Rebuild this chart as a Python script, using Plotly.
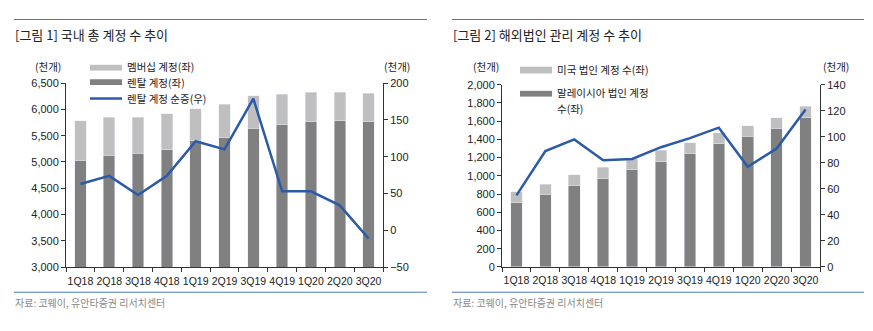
import plotly.graph_objects as go

quarters = ["1Q18", "2Q18", "3Q18", "4Q18", "1Q19", "2Q19", "3Q19", "4Q19", "1Q20", "2Q20", "3Q20"]

# Chart 1 (domestic)
rental = [5030, 5125, 5165, 5235, 5400, 5460, 5640, 5705, 5765, 5785, 5765]
total_dom = [5780, 5855, 5850, 5920, 6010, 6100, 6260, 6285, 6330, 6330, 6305]
membership = [t - r for t, r in zip(total_dom, rental)]
rental_net = [63, 74, 48, 74, 121, 110, 179, 53, 53, 34, -11]

# Chart 2 (overseas)
malaysia = [705, 800, 890, 970, 1065, 1153, 1242, 1354, 1433, 1520, 1640]
total_ovs = [825, 907, 1012, 1092, 1190, 1280, 1365, 1471, 1549, 1640, 1764]
usa = [t - m for t, m in zip(total_ovs, malaysia)]
overseas_line = [55, 89, 98, 82, 83, 92, 99, 107, 77, 91, 121]

W, H = 873, 331
LIGHT = "#bfbfbf"
DARK = "#808080"
BLUE = "#2b5ba8"
FONT = "Liberation Sans, Noto Sans CJK KR, sans-serif"
KFONT = "Noto Sans CJK KR, sans-serif"
TXT = "#222222"

def px(x):
    return x / W

def py(y):
    return 1 - y / H

fig = go.Figure()

fig.add_trace(go.Bar(x=quarters, y=rental, marker_color=DARK, xaxis="x", yaxis="y", showlegend=False))
fig.add_trace(go.Bar(x=quarters, y=membership, marker_color=LIGHT, xaxis="x", yaxis="y", showlegend=False))
fig.add_trace(go.Scatter(x=quarters, y=rental_net, mode="lines", line=dict(color=BLUE, width=2.5),
                         xaxis="x", yaxis="y2", showlegend=False))

fig.add_trace(go.Bar(x=quarters, y=malaysia, marker_color=DARK, xaxis="x2", yaxis="y3", showlegend=False))
fig.add_trace(go.Bar(x=quarters, y=usa, marker_color=LIGHT, xaxis="x2", yaxis="y3", showlegend=False))
fig.add_trace(go.Scatter(x=quarters, y=overseas_line, mode="lines", line=dict(color=BLUE, width=2.5),
                         xaxis="x2", yaxis="y4", showlegend=False))

axis_common = dict(showgrid=False, zeroline=False, showline=True, linecolor="#333333", linewidth=1,
                   ticks="outside", ticklen=4, tickcolor="#333333",
                   tickfont=dict(family=FONT, size=11, color=TXT))
xaxis_common = dict(axis_common)
xaxis_common["tickfont"] = dict(family=FONT, size=10.5, color=TXT)
xaxis_common["ticklabelstandoff"] = 4

ydom = [py(271), py(80)]
ydom2 = [py(270.7), py(81.7)]

fig.update_layout(
    width=W, height=H, margin=dict(l=0, r=0, t=0, b=0),
    paper_bgcolor="white", plot_bgcolor="white",
    barmode="stack", bargap=0.6,
    xaxis=dict(domain=[px(66), px(383)], anchor="y", tickson="boundaries", tickangle=0, **xaxis_common),
    yaxis=dict(domain=ydom, anchor="x", range=[3000, 6500], dtick=500, tickformat=",", **axis_common),
    yaxis2=dict(overlaying="y", side="right", anchor="x", range=[-50, 200], dtick=50, **axis_common),
    xaxis2=dict(domain=[px(502), px(820)], anchor="y3", tickson="boundaries", tickangle=0, **xaxis_common),
    yaxis3=dict(domain=ydom2, anchor="x2", range=[0, 2000], dtick=200, tickformat=",", **axis_common),
    yaxis4=dict(overlaying="y3", side="right", anchor="x2", range=[0, 140], dtick=20, **axis_common),
)

shapes = []
annos = []

def line(x0, y0, x1, y1, color, width):
    shapes.append(dict(type="line", xref="paper", yref="paper", x0=px(x0), y0=py(y0), x1=px(x1), y1=py(y1),
                       line=dict(color=color, width=width)))

def rect(x0, y0, x1, y1, color):
    shapes.append(dict(type="rect", xref="paper", yref="paper", x0=px(x0), y0=py(y0), x1=px(x1), y1=py(y1),
                       line=dict(width=0), fillcolor=color))

def text(x, y, s, size=11, color=TXT, xanchor="left", family=KFONT):
    annos.append(dict(xref="paper", yref="paper", x=px(x), y=py(y), text=s, showarrow=False,
                      xanchor=xanchor, yanchor="middle", borderpad=0,
                      font=dict(family=family, size=size, color=color)))

for x0, x1 in [(14, 427), (452, 864)]:
    line(x0, 14, x1, 14, "#4a78b5", 1)
    line(x0, 297, x1, 297, "#4a78b5", 1)

text(14, 30, "[그림 1] 국내 총 계정 수 추이", size=13)
text(452, 30, "[그림 2] 해외법인 관리 계정 수 추이", size=13)

text(48, 63, "(천개)", size=10.5, xanchor="center")
text(397, 63, "(천개)", size=10.5, xanchor="center")
text(486, 63, "(천개)", size=10.5, xanchor="center")
text(836, 63, "(천개)", size=10.5, xanchor="center")

rect(90, 61, 122, 67, LIGHT)
text(126, 63, "멤버십 계정(좌)", size=10.5)
rect(90, 76, 122, 82, DARK)
text(126, 79, "렌탈 계정(좌)", size=10.5)
line(90, 96, 122, 96, BLUE, 2.5)
text(126, 96, "렌탈 계정 순증(우)", size=10.5)

rect(520, 63, 552, 70, LIGHT)
text(556, 66, "미국 법인 계정 수(좌)", size=10.5)
rect(520, 88, 552, 94, DARK)
text(556, 90, "말레이시아 법인 계정", size=10.5)
text(556, 106, "수(좌)", size=10.5)

text(14, 308, "자료: 코웨이, 유안타증권 리서치센터", size=10, color="#888888")
text(452, 308, "자료: 코웨이, 유안타증권 리서치센터", size=10, color="#888888")

fig.update_layout(shapes=shapes, annotations=annos)

fig.write_html("out.html")
